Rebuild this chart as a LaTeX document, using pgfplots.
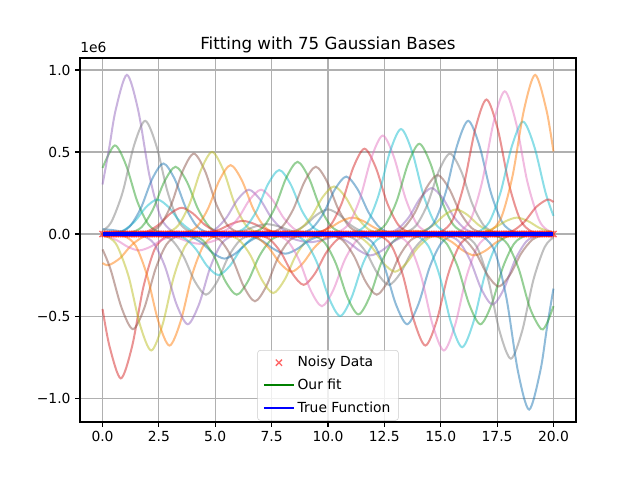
\documentclass[border=0pt]{standalone}
\usepackage{fontspec}
\setmainfont{DejaVu Sans}
\usepackage{pgfplots}
\pgfplotsset{compat=1.18}
\definecolor{c0}{HTML}{1F77B4}
\definecolor{c1}{HTML}{FF7F0E}
\definecolor{c2}{HTML}{2CA02C}
\definecolor{c3}{HTML}{D62728}
\definecolor{c4}{HTML}{9467BD}
\definecolor{c5}{HTML}{8C564B}
\definecolor{c6}{HTML}{E377C2}
\definecolor{c7}{HTML}{7F7F7F}
\definecolor{c8}{HTML}{BCBD22}
\definecolor{c9}{HTML}{17BECF}
\definecolor{gridc}{HTML}{B0B0B0}
\definecolor{legc}{HTML}{CCCCCC}
\pgfplotsset{base/.style={opacity=0.5, line width=1.5pt, smooth, forget plot, no markers}}
\begin{document}
\begin{tikzpicture}
\useasboundingbox (-60pt,-43.5pt) rectangle (420pt,316.5pt);
\begin{axis}[name=ax,
  scale only axis, width=372pt, height=273pt,
  xmin=-1, xmax=21, ymin=-1.146, ymax=1.073,
  clip marker paths=true,
  xtick={0,2.5,5,7.5,10,12.5,15,17.5,20},
  xticklabels={0.0,2.5,5.0,7.5,10.0,12.5,15.0,17.5,20.0},
  ytick={-1,-0.5,0,0.5,1},
  yticklabels={−1.0,−0.5,0.0,0.5,1.0},
  tick label style={font=\fontsize{10.4}{12}\selectfont},
  tick align=outside, major tick length=3.6pt,
  tick style={black, line width=0.8pt},
  xtick pos=bottom, ytick pos=left,
  grid=major, major grid style={gridc, line width=0.8pt},
  axis line style={line width=0.8pt},
  legend image code/.code={\draw[mark repeat=2,mark phase=2,#1] plot coordinates {(0cm,0cm)(0.395cm,0cm)(0.79cm,0cm)};},
  legend style={at={(0.5,0.004)}, anchor=south, draw=legc, rounded corners=2pt,
    fill=white, fill opacity=0.8, text opacity=1,
    font=\fontsize{10.4}{12}\selectfont, row sep=3.6pt, inner xsep=4pt, inner ysep=2.5pt},
  legend cell align=left,
]
\addplot[base,c0] coordinates {(0,0.03)(0.5,0.023)(1,0.011)(1.5,0.003)(2,0.001)(2.5,0)};
\addplot[base,c1] coordinates {(0,-0.177)(0.27,-0.19)(0.77,-0.148)(1.27,-0.07)(1.77,-0.02)(2.27,-0.003)(2.77,0)};
\addplot[base,c2] coordinates {(0,0.403)(0.54,0.54)(1.04,0.421)(1.54,0.199)(2.04,0.057)(2.54,0.01)(3.04,0.001)};
\addplot[base,c3] coordinates {(0,-0.457)(0.31,-0.685)(0.81,-0.88)(1.31,-0.685)(1.81,-0.324)(2.31,-0.093)(2.81,-0.016)(3.31,-0.002)};
\addplot[base,c4] coordinates {(0,0.302)(0.3,0.528)(0.58,0.755)(1.08,0.97)(1.58,0.755)(2.08,0.357)(2.58,0.102)(3.08,0.018)(3.58,0.002)};
\addplot[base,c5] coordinates {(0,-0.094)(0.35,-0.213)(0.85,-0.452)(1.35,-0.58)(1.85,-0.452)(2.35,-0.213)(2.85,-0.061)(3.35,-0.011)(3.85,-0.001)};
\addplot[base,c6] coordinates {(0,-0.007)(0.62,-0.037)(1.12,-0.078)(1.62,-0.1)(2.12,-0.078)(2.62,-0.037)(3.12,-0.011)(3.62,-0.002)(4.12,0)};
\addplot[base,c7] coordinates {(0,0.019)(0.39,0.073)(0.89,0.254)(1.39,0.537)(1.89,0.69)(2.39,0.537)(2.89,0.254)(3.39,0.073)(3.89,0.013)(4.39,0.001)};
\addplot[base,c8] coordinates {(0,-0.007)(0.33,-0.025)(0.66,-0.075)(1.16,-0.261)(1.66,-0.553)(2.16,-0.71)(2.66,-0.553)(3.16,-0.261)(3.66,-0.075)(4.16,-0.013)(4.66,-0.001)};
\addplot[base,c9] coordinates {(0,0.001)(0.43,0.004)(0.93,0.022)(1.43,0.077)(1.93,0.164)(2.43,0.21)(2.93,0.164)(3.43,0.077)(3.93,0.022)(4.43,0.004)(4.93,0)};
\addplot[base,c0] coordinates {(0,0)(0.2,0.001)(0.7,0.008)(1.2,0.045)(1.7,0.158)(2.2,0.335)(2.7,0.43)(3.2,0.335)(3.7,0.158)(4.2,0.045)(4.7,0.008)(5.2,0.001)};
\addplot[base,c1] coordinates {(0.47,-0.001)(0.97,-0.012)(1.47,-0.072)(1.97,-0.25)(2.47,-0.53)(2.97,-0.68)(3.47,-0.53)(3.97,-0.25)(4.47,-0.072)(4.97,-0.012)(5.47,-0.001)};
\addplot[base,c2] coordinates {(0.74,0.001)(1.24,0.008)(1.74,0.043)(2.24,0.151)(2.74,0.319)(3.24,0.41)(3.74,0.319)(4.24,0.151)(4.74,0.043)(5.24,0.008)(5.74,0.001)};
\addplot[base,c3] coordinates {(1.01,0)(1.51,0.003)(2.01,0.017)(2.51,0.059)(3.01,0.125)(3.51,0.16)(4.01,0.125)(4.51,0.059)(5.01,0.017)(5.51,0.003)(6.01,0)};
\addplot[base,c4] coordinates {(1.28,-0.001)(1.78,-0.01)(2.28,-0.058)(2.78,-0.202)(3.28,-0.428)(3.78,-0.55)(4.28,-0.428)(4.78,-0.202)(5.28,-0.058)(5.78,-0.01)(6.28,-0.001)};
\addplot[base,c5] coordinates {(1.55,0.001)(2.05,0.009)(2.55,0.052)(3.05,0.18)(3.55,0.382)(4.05,0.49)(4.55,0.382)(5.05,0.18)(5.55,0.052)(6.05,0.009)(6.55,0.001)};
\addplot[base,c6] coordinates {(1.82,0)(2.32,-0.001)(2.82,-0.006)(3.32,-0.022)(3.82,-0.047)(4.32,-0.06)(4.82,-0.047)(5.32,-0.022)(5.82,-0.006)(6.32,-0.001)(6.82,0)};
\addplot[base,c7] coordinates {(2.09,-0.001)(2.59,-0.007)(3.09,-0.039)(3.59,-0.136)(4.09,-0.288)(4.59,-0.37)(5.09,-0.288)(5.59,-0.136)(6.09,-0.039)(6.59,-0.007)(7.09,-0.001)};
\addplot[base,c8] coordinates {(2.36,0.001)(2.86,0.009)(3.36,0.053)(3.86,0.184)(4.36,0.389)(4.86,0.5)(5.36,0.389)(5.86,0.184)(6.36,0.053)(6.86,0.009)(7.36,0.001)};
\addplot[base,c9] coordinates {(2.64,0)(3.14,-0.005)(3.64,-0.026)(4.14,-0.092)(4.64,-0.195)(5.14,-0.25)(5.64,-0.195)(6.14,-0.092)(6.64,-0.026)(7.14,-0.005)(7.64,0)};
\addplot[base,c0] coordinates {(2.91,0)(3.41,-0.003)(3.91,-0.016)(4.41,-0.055)(4.91,-0.117)(5.41,-0.15)(5.91,-0.117)(6.41,-0.055)(6.91,-0.016)(7.41,-0.003)(7.91,0)};
\addplot[base,c1] coordinates {(3.18,0.001)(3.68,0.008)(4.18,0.044)(4.68,0.155)(5.18,0.327)(5.68,0.42)(6.18,0.327)(6.68,0.155)(7.18,0.044)(7.68,0.008)(8.18,0.001)};
\addplot[base,c2] coordinates {(3.45,-0.001)(3.95,-0.007)(4.45,-0.039)(4.95,-0.136)(5.45,-0.288)(5.95,-0.37)(6.45,-0.288)(6.95,-0.136)(7.45,-0.039)(7.95,-0.007)(8.45,-0.001)};
\addplot[base,c3] coordinates {(3.72,0)(4.22,0.001)(4.72,0.008)(5.22,0.029)(5.72,0.062)(6.22,0.08)(6.72,0.062)(7.22,0.029)(7.72,0.008)(8.22,0.001)(8.72,0)};
\addplot[base,c4] coordinates {(3.99,0)(4.49,0.005)(4.99,0.028)(5.49,0.099)(5.99,0.21)(6.49,0.27)(6.99,0.21)(7.49,0.099)(7.99,0.028)(8.49,0.005)(8.99,0)};
\addplot[base,c5] coordinates {(4.26,-0.001)(4.76,-0.008)(5.26,-0.043)(5.76,-0.151)(6.26,-0.319)(6.76,-0.41)(7.26,-0.319)(7.76,-0.151)(8.26,-0.043)(8.76,-0.008)(9.26,-0.001)};
\addplot[base,c6] coordinates {(4.53,0)(5.03,0.005)(5.53,0.028)(6.03,0.099)(6.53,0.21)(7.03,0.27)(7.53,0.21)(8.03,0.099)(8.53,0.028)(9.03,0.005)(9.53,0)};
\addplot[base,c7] coordinates {(4.8,0)(5.3,0.001)(5.8,0.006)(6.3,0.022)(6.8,0.047)(7.3,0.06)(7.8,0.047)(8.3,0.022)(8.8,0.006)(9.3,0.001)(9.8,0)};
\addplot[base,c8] coordinates {(5.07,-0.001)(5.57,-0.007)(6.07,-0.038)(6.57,-0.132)(7.07,-0.28)(7.57,-0.36)(8.07,-0.28)(8.57,-0.132)(9.07,-0.038)(9.57,-0.007)(10.07,-0.001)};
\addplot[base,c9] coordinates {(5.34,0.001)(5.84,0.007)(6.34,0.041)(6.84,0.143)(7.34,0.304)(7.84,0.39)(8.34,0.304)(8.84,0.143)(9.34,0.041)(9.84,0.007)(10.34,0.001)};
\addplot[base,c0] coordinates {(5.61,0)(6.11,-0.002)(6.61,-0.013)(7.11,-0.044)(7.61,-0.093)(8.11,-0.12)(8.61,-0.093)(9.11,-0.044)(9.61,-0.013)(10.11,-0.002)(10.61,0)};
\addplot[base,c1] coordinates {(5.88,0)(6.38,-0.004)(6.88,-0.024)(7.38,-0.085)(7.88,-0.179)(8.38,-0.23)(8.88,-0.179)(9.38,-0.085)(9.88,-0.024)(10.38,-0.004)(10.88,0)};
\addplot[base,c2] coordinates {(6.15,0.001)(6.65,0.008)(7.15,0.046)(7.65,0.162)(8.15,0.343)(8.65,0.44)(9.15,0.343)(9.65,0.162)(10.15,0.046)(10.65,0.008)(11.15,0.001)};
\addplot[base,c3] coordinates {(6.42,-0.001)(6.92,-0.006)(7.42,-0.033)(7.92,-0.114)(8.42,-0.241)(8.92,-0.31)(9.42,-0.241)(9.92,-0.114)(10.42,-0.033)(10.92,-0.006)(11.42,-0.001)};
\addplot[base,c4] coordinates {(6.69,0)(7.19,-0.001)(7.69,-0.005)(8.19,-0.018)(8.69,-0.039)(9.19,-0.05)(9.69,-0.039)(10.19,-0.018)(10.69,-0.005)(11.19,-0.001)(11.69,0)};
\addplot[base,c5] coordinates {(6.96,0.001)(7.46,0.008)(7.96,0.043)(8.46,0.151)(8.96,0.319)(9.46,0.41)(9.96,0.319)(10.46,0.151)(10.96,0.043)(11.46,0.008)(11.96,0.001)};
\addplot[base,c6] coordinates {(7.23,-0.001)(7.73,-0.008)(8.23,-0.046)(8.73,-0.162)(9.23,-0.343)(9.73,-0.44)(10.23,-0.343)(10.73,-0.162)(11.23,-0.046)(11.73,-0.008)(12.23,-0.001)};
\addplot[base,c7] coordinates {(7.5,0)(8,0.003)(8.5,0.016)(9,0.055)(9.5,0.117)(10,0.15)(10.5,0.117)(11,0.055)(11.5,0.016)(12,0.003)(12.5,0)};
\addplot[base,c8] coordinates {(7.77,0.001)(8.27,0.005)(8.77,0.031)(9.27,0.107)(9.77,0.226)(10.27,0.29)(10.77,0.226)(11.27,0.107)(11.77,0.031)(12.27,0.005)(12.77,0.001)};
\addplot[base,c9] coordinates {(8.04,-0.001)(8.54,-0.009)(9.04,-0.053)(9.54,-0.184)(10.04,-0.389)(10.54,-0.5)(11.04,-0.389)(11.54,-0.184)(12.04,-0.053)(12.54,-0.009)(13.04,-0.001)};
\addplot[base,c0] coordinates {(8.31,0.001)(8.81,0.006)(9.31,0.037)(9.81,0.129)(10.31,0.273)(10.81,0.35)(11.31,0.273)(11.81,0.129)(12.31,0.037)(12.81,0.006)(13.31,0.001)};
\addplot[base,c1] coordinates {(8.58,0)(9.08,0.002)(9.58,0.011)(10.08,0.037)(10.58,0.078)(11.08,0.1)(11.58,0.078)(12.08,0.037)(12.58,0.011)(13.08,0.002)(13.58,0)};
\addplot[base,c2] coordinates {(8.85,-0.001)(9.35,-0.009)(9.85,-0.052)(10.35,-0.18)(10.85,-0.382)(11.35,-0.49)(11.85,-0.382)(12.35,-0.18)(12.85,-0.052)(13.35,-0.009)(13.85,-0.001)};
\addplot[base,c3] coordinates {(9.12,0.001)(9.62,0.01)(10.12,0.055)(10.62,0.191)(11.12,0.405)(11.62,0.52)(12.12,0.405)(12.62,0.191)(13.12,0.055)(13.62,0.01)(14.12,0.001)};
\addplot[base,c4] coordinates {(9.39,0)(9.89,-0.002)(10.39,-0.014)(10.89,-0.048)(11.39,-0.101)(11.89,-0.13)(12.39,-0.101)(12.89,-0.048)(13.39,-0.014)(13.89,-0.002)(14.39,0)};
\addplot[base,c5] coordinates {(9.66,-0.001)(10.16,-0.007)(10.66,-0.039)(11.16,-0.136)(11.66,-0.288)(12.16,-0.37)(12.66,-0.288)(13.16,-0.136)(13.66,-0.039)(14.16,-0.007)(14.66,-0.001)};
\addplot[base,c6] coordinates {(9.93,0.001)(10.43,0.011)(10.93,0.063)(11.43,0.221)(11.93,0.467)(12.43,0.6)(12.93,0.467)(13.43,0.221)(13.93,0.063)(14.43,0.011)(14.93,0.001)};
\addplot[base,c7] coordinates {(10.2,-0.001)(10.7,-0.006)(11.2,-0.033)(11.7,-0.114)(12.2,-0.241)(12.7,-0.31)(13.2,-0.241)(13.7,-0.114)(14.2,-0.033)(14.7,-0.006)(15.2,-0.001)};
\addplot[base,c8] coordinates {(10.47,0)(10.97,-0.004)(11.47,-0.024)(11.97,-0.085)(12.47,-0.179)(12.97,-0.23)(13.47,-0.179)(13.97,-0.085)(14.47,-0.024)(14.97,-0.004)(15.47,0)};
\addplot[base,c9] coordinates {(10.74,0.001)(11.24,0.012)(11.74,0.067)(12.24,0.235)(12.74,0.498)(13.24,0.64)(13.74,0.498)(14.24,0.235)(14.74,0.067)(15.24,0.012)(15.74,0.001)};
\addplot[base,c0] coordinates {(11.01,-0.001)(11.51,-0.01)(12.01,-0.058)(12.51,-0.202)(13.01,-0.428)(13.51,-0.55)(14.01,-0.428)(14.51,-0.202)(15.01,-0.058)(15.51,-0.01)(16.01,-0.001)};
\addplot[base,c1] coordinates {(11.78,0)(12.78,0.007)(13.78,0.02)(14.78,0.007)(15.78,0)};
\addplot[base,c2] coordinates {(11.55,0.001)(12.05,0.01)(12.55,0.058)(13.05,0.202)(13.55,0.428)(14.05,0.55)(14.55,0.428)(15.05,0.202)(15.55,0.058)(16.05,0.01)(16.55,0.001)};
\addplot[base,c3] coordinates {(11.82,-0.001)(12.32,-0.012)(12.82,-0.072)(13.32,-0.25)(13.82,-0.53)(14.32,-0.68)(14.82,-0.53)(15.32,-0.25)(15.82,-0.072)(16.32,-0.012)(16.82,-0.001)};
\addplot[base,c4] coordinates {(12.09,0.001)(12.59,0.005)(13.09,0.03)(13.59,0.103)(14.09,0.218)(14.59,0.28)(15.09,0.218)(15.59,0.103)(16.09,0.03)(16.59,0.005)(17.09,0.001)};
\addplot[base,c5] coordinates {(12.36,0.001)(12.86,0.007)(13.36,0.038)(13.86,0.132)(14.36,0.28)(14.86,0.36)(15.36,0.28)(15.86,0.132)(16.36,0.038)(16.86,0.007)(17.36,0.001)};
\addplot[base,c6] coordinates {(12.64,-0.001)(13.14,-0.013)(13.64,-0.075)(14.14,-0.261)(14.64,-0.553)(15.14,-0.71)(15.64,-0.553)(16.14,-0.261)(16.64,-0.075)(17.14,-0.013)(17.64,-0.001)};
\addplot[base,c7] coordinates {(12.91,0.001)(13.41,0.009)(13.91,0.052)(14.41,0.18)(14.91,0.382)(15.41,0.49)(15.91,0.382)(16.41,0.18)(16.91,0.052)(17.41,0.009)(17.91,0.001)};
\addplot[base,c8] coordinates {(13.18,0)(13.68,0.003)(14.18,0.016)(14.68,0.055)(15.18,0.117)(15.68,0.15)(16.18,0.117)(16.68,0.055)(17.18,0.016)(17.68,0.003)(18.18,0)};
\addplot[base,c9] coordinates {(13.45,-0.001)(13.95,-0.013)(14.45,-0.073)(14.95,-0.254)(15.45,-0.537)(15.95,-0.69)(16.45,-0.537)(16.95,-0.254)(17.45,-0.073)(17.95,-0.013)(18.45,-0.001)};
\addplot[base,c0] coordinates {(13.72,0.001)(14.22,0.013)(14.72,0.073)(15.22,0.254)(15.72,0.537)(16.22,0.69)(16.72,0.537)(17.22,0.254)(17.72,0.073)(18.22,0.013)(18.72,0.001)};
\addplot[base,c1] coordinates {(13.99,0)(14.49,-0.002)(14.99,-0.014)(15.49,-0.048)(15.99,-0.101)(16.49,-0.13)(16.99,-0.101)(17.49,-0.048)(17.99,-0.014)(18.49,-0.002)(18.99,0)};
\addplot[base,c2] coordinates {(14.26,-0.001)(14.76,-0.01)(15.26,-0.058)(15.76,-0.202)(16.26,-0.428)(16.76,-0.55)(17.26,-0.428)(17.76,-0.202)(18.26,-0.058)(18.76,-0.01)(19.26,-0.001)};
\addplot[base,c3] coordinates {(14.53,0.002)(15.03,0.015)(15.53,0.086)(16.03,0.302)(16.53,0.639)(17.03,0.82)(17.53,0.639)(18.03,0.302)(18.53,0.086)(19.03,0.015)(19.53,0.002)};
\addplot[base,c4] coordinates {(14.8,-0.001)(15.3,-0.008)(15.8,-0.045)(16.3,-0.158)(16.8,-0.335)(17.3,-0.43)(17.8,-0.335)(18.3,-0.158)(18.8,-0.045)(19.3,-0.008)(19.8,-0.001)(20,0)};
\addplot[base,c5] coordinates {(15.07,-0.001)(15.57,-0.006)(16.07,-0.034)(16.57,-0.118)(17.07,-0.249)(17.57,-0.32)(18.07,-0.249)(18.57,-0.118)(19.07,-0.034)(19.57,-0.006)(20,-0.001)};
\addplot[base,c6] coordinates {(15.34,0.002)(15.84,0.016)(16.34,0.092)(16.84,0.32)(17.34,0.678)(17.84,0.87)(18.34,0.678)(18.84,0.32)(19.34,0.092)(19.67,0.03)(20,0.008)};
\addplot[base,c7] coordinates {(15.61,-0.002)(16.11,-0.014)(16.61,-0.08)(17.11,-0.28)(17.61,-0.592)(18.11,-0.76)(18.61,-0.592)(19.11,-0.28)(19.61,-0.08)(20,-0.021)};
\addplot[base,c8] coordinates {(15.88,0)(16.38,0.002)(16.88,0.011)(17.38,0.037)(17.88,0.078)(18.38,0.1)(18.88,0.078)(19.38,0.037)(20,0.007)};
\addplot[base,c9] coordinates {(16.15,0.001)(16.65,0.013)(17.15,0.072)(17.65,0.252)(18.15,0.533)(18.65,0.685)(19.15,0.533)(19.65,0.252)(20,0.111)};
\addplot[base,c0] coordinates {(16.42,-0.002)(16.92,-0.02)(17.42,-0.113)(17.92,-0.394)(18.42,-0.833)(18.92,-1.07)(19.42,-0.833)(19.71,-0.573)(20,-0.333)};
\addplot[base,c1] coordinates {(16.69,0.002)(17.19,0.018)(17.69,0.102)(18.19,0.357)(18.69,0.755)(19.19,0.97)(19.69,0.755)(20,0.503)};
\addplot[base,c2] coordinates {(16.96,-0.001)(17.46,-0.011)(17.96,-0.061)(18.46,-0.213)(18.96,-0.452)(19.46,-0.58)(19.73,-0.538)(20,-0.44)};
\addplot[base,c3] coordinates {(17.23,0)(17.73,0.004)(18.23,0.022)(18.73,0.077)(19.23,0.164)(19.73,0.21)(20,0.195)};
\addplot[base,c4] coordinates {(17.5,0)(18.5,-0.002)(19.5,-0.01)(20,-0.013)};
\addplot[only marks, mark=x, color=red, mark size=3.3pt, mark options={opacity=0.6, line width=1pt}] coordinates {
(0,0)(0.1,0)(0.2,0)(0.3,0)(0.4,0)(0.5,0)(0.6,0)(0.7,0)(0.8,0)(0.9,0)
(1,0)(1.1,0)(1.2,0)(1.3,0)(1.4,0)(1.5,0)(1.6,0)(1.7,0)(1.8,0)(1.9,0)
(2,0)(2.1,0)(2.2,0)(2.3,0)(2.4,0)(2.5,0)(2.6,0)(2.7,0)(2.8,0)(2.9,0)
(3,0)(3.1,0)(3.2,0)(3.3,0)(3.4,0)(3.5,0)(3.6,0)(3.7,0)(3.8,0)(3.9,0)
(4,0)(4.1,0)(4.2,0)(4.3,0)(4.4,0)(4.5,0)(4.6,0)(4.7,0)(4.8,0)(4.9,0)
(5,0)(5.1,0)(5.2,0)(5.3,0)(5.4,0)(5.5,0)(5.6,0)(5.7,0)(5.8,0)(5.9,0)
(6,0)(6.1,0)(6.2,0)(6.3,0)(6.4,0)(6.5,0)(6.6,0)(6.7,0)(6.8,0)(6.9,0)
(7,0)(7.1,0)(7.2,0)(7.3,0)(7.4,0)(7.5,0)(7.6,0)(7.7,0)(7.8,0)(7.9,0)
(8,0)(8.1,0)(8.2,0)(8.3,0)(8.4,0)(8.5,0)(8.6,0)(8.7,0)(8.8,0)(8.9,0)
(9,0)(9.1,0)(9.2,0)(9.3,0)(9.4,0)(9.5,0)(9.6,0)(9.7,0)(9.8,0)(9.9,0)
(10,0)(10.1,0)(10.2,0)(10.3,0)(10.4,0)(10.5,0)(10.6,0)(10.7,0)(10.8,0)(10.9,0)
(11,0)(11.1,0)(11.2,0)(11.3,0)(11.4,0)(11.5,0)(11.6,0)(11.7,0)(11.8,0)(11.9,0)
(12,0)(12.1,0)(12.2,0)(12.3,0)(12.4,0)(12.5,0)(12.6,0)(12.7,0)(12.8,0)(12.9,0)
(13,0)(13.1,0)(13.2,0)(13.3,0)(13.4,0)(13.5,0)(13.6,0)(13.7,0)(13.8,0)(13.9,0)
(14,0)(14.1,0)(14.2,0)(14.3,0)(14.4,0)(14.5,0)(14.6,0)(14.7,0)(14.8,0)(14.9,0)
(15,0)(15.1,0)(15.2,0)(15.3,0)(15.4,0)(15.5,0)(15.6,0)(15.7,0)(15.8,0)(15.9,0)
(16,0)(16.1,0)(16.2,0)(16.3,0)(16.4,0)(16.5,0)(16.6,0)(16.7,0)(16.8,0)(16.9,0)
(17,0)(17.1,0)(17.2,0)(17.3,0)(17.4,0)(17.5,0)(17.6,0)(17.7,0)(17.8,0)(17.9,0)
(18,0)(18.1,0)(18.2,0)(18.3,0)(18.4,0)(18.5,0)(18.6,0)(18.7,0)(18.8,0)(18.9,0)
(19,0)(19.1,0)(19.2,0)(19.3,0)(19.4,0)(19.5,0)(19.6,0)(19.7,0)(19.8,0)(19.9,0)
(20,0)};
\addlegendentry{Noisy Data}
\addplot[color={rgb,255:red,0;green,128;blue,0}, line width=2.2pt, no markers, legend image post style={line width=1.5pt}] coordinates {(0,0)(20,0)};
\addlegendentry{Our fit}
\addplot[color=blue, line width=2.4pt, no markers, legend image post style={line width=1.5pt}] coordinates {(0,0)(20,0)};
\addlegendentry{True Function}
\end{axis}
\node[anchor=base, font=\fontsize{12.5}{14}\selectfont] at ([yshift=6.75pt]ax.north) {Fitting with 75 Gaussian Bases};
\node[anchor=base west, inner sep=0pt, font=\fontsize{10.4}{12}\selectfont] at ([yshift=4.5pt]ax.north west) {1e6};
\end{tikzpicture}
\end{document}
